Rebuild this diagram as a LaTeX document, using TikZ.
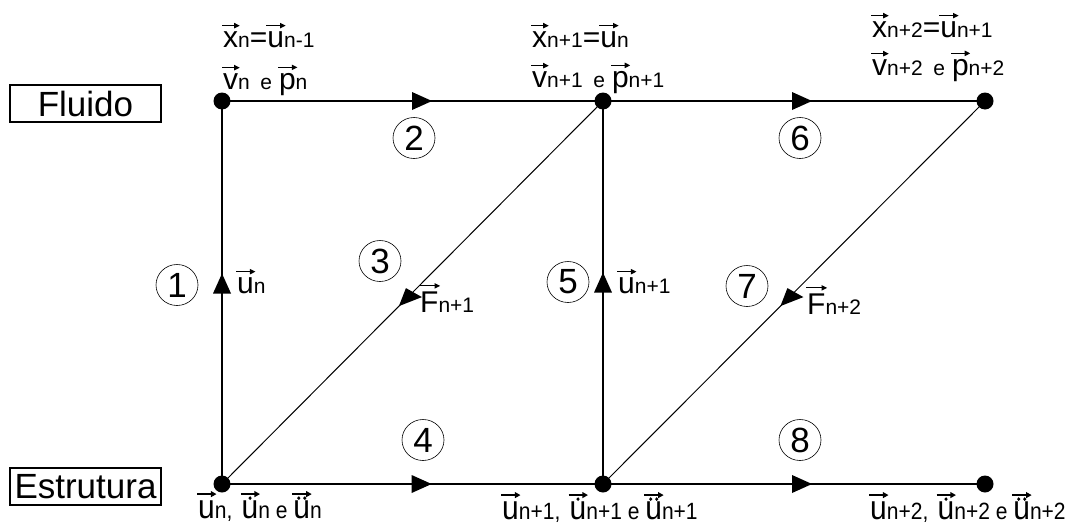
\documentclass[tikz,border=0pt]{standalone}
\usepackage{fontspec}
\usepackage{graphicx}
\usetikzlibrary{shapes.geometric}
\setmainfont{Liberation Sans}
\newbox\vab
\newdimen\vaw
\newcommand\vaarrow[1]{\tikz[x=1pt,y=1pt,baseline=0pt,line width=1.1pt]{%
  \draw (-1,0)--(\vaw-2,0);
  \fill (\vaw+1.5,0)--(\vaw-4,2.8)--(\vaw-4,-2.8)--cycle;
  \ifnum#1=1 \fill (\vaw/2,-3.6) circle (1.7);\fi
  \ifnum#1=2 \fill (\vaw/2-3,-3.6) circle (1.7); \fill (\vaw/2+3,-3.6) circle (1.7);\fi}}
\newcommand\va[2][0]{{\setbox\vab=\hbox{#2}\vaw=\wd\vab\relax
  \rlap{\hbox to \vaw{\hss\raisebox{\dimexpr\ht\vab+5.5pt\relax}{\vaarrow{#1}}\hss}}\box\vab}}
\newcommand\smf[1]{{\fontsize{21}{21}\selectfont #1}}
\tikzset{
  dot/.style={circle,fill=black,inner sep=0pt,minimum size=17pt},
  lab/.style={anchor=base west,inner sep=0pt,font=\fontsize{30}{30}\selectfont},
  num/.style={draw,line width=0.6pt,ellipse,inner sep=0pt,minimum width=42pt,minimum height=41pt,font=\fontsize{35}{35}\selectfont},
  box/.style={draw,line width=1.4pt,inner sep=0pt,minimum width=151pt,minimum height=37pt,font=\fontsize{35}{35}\selectfont},
  edge/.style={line width=2pt},
  diag/.style={line width=1pt},
  hhead/.pic={\fill (-10,-9) -- (10,0) -- (-10,9) -- cycle;},
  dhead/.pic={\fill (-2,-9) -- (14,0) -- (-9,9) -- cycle;}
}
\begin{document}
\begin{tikzpicture}[x=1pt,y=-1pt]
\useasboundingbox (0,0) rectangle (1080,525);
% boxes
\node[box] (fluido) at (85.5,103.5) {Fluido};
\node[box] (estr) at (85.5,486.5) {Estrutura};
% graph nodes
\node[dot] (f1) at (222,101) {};
\node[dot] (f2) at (603,101) {};
\node[dot] (f3) at (985,101) {};
\node[dot] (s1) at (222,484) {};
\node[dot] (s2) at (603,484) {};
\node[dot] (s3) at (985,484) {};
% connectors
\draw[edge] (f1.center) -- coordinate[pos=0.525] (a2) (f2.center);
\draw[edge] (f2.center) -- coordinate[pos=0.521] (a6) (f3.center);
\draw[edge] (s1.center) -- coordinate[pos=0.524] (a4) (s2.center);
\draw[edge] (s2.center) -- coordinate[pos=0.521] (a8) (s3.center);
\draw[edge] (s1.center) -- coordinate[pos=0.5235] (a1) (f1.center);
\draw[edge] (s2.center) -- coordinate[pos=0.526] (a5) (f2.center);
\draw[diag] (s1.center) -- coordinate[pos=0.488] (a3) (f2.center);
\draw[diag] (s2.center) -- coordinate[pos=0.488] (a7) (f3.center);
% arrowheads
\pic at (a2) {hhead};
\pic at (a6) {hhead};
\pic at (a4) {hhead};
\pic at (a8) {hhead};
\pic[rotate=90] at (a1) {hhead};
\pic[rotate=90] at (a5) {hhead};
\pic at (a3) {dhead};
\pic at (a7) {dhead};
% circled numbers
\node[num] (c1) at (177,285) {1};
\node[num] (c2) at (414,138) {2};
\node[num] (c3) at (380,261) {3};
\node[num] (c4) at (423,440) {4};
\node[num] (c5) at (568,282) {5};
\node[num] (c6) at (800,138) {6};
\node[num] (c7) at (747,286) {7};
\node[num] (c8) at (800,440) {8};
% labels
\node[lab] (tl1) at (223,47) {\va{x}\smf{n}=\va{u}\smf{n-1}};
\node[lab] (tl2) at (223,89) {\va{v}\smf{n\enspace e\,\,}\va{p}\smf{n}};
\node[lab] (tm1) at (532,47) {\va{x}\smf{n+1}=\va{u}\smf{n}};
\node[lab] (tm2) at (532,87) {\va{v}\smf{n+1\enspace e\,\,}\va{p}\smf{n+1}};
\node[lab] (tr1) at (872,37) {\va{x}\smf{n+2}=\va{u}\smf{n+1}};
\node[lab] (tr2) at (872,75) {\va{v}\smf{n+2\enspace e\,\,}\va{p}\smf{n+2}};
\node[lab] (bl) at (198,518) {\scalebox{1}[1.12]{\va{u}\smf{n,\ \,}\va[1]{u}\smf{n\ e\ }\va[2]{u}\smf{n}}};
\node[lab] (bm) at (502,519) {\scalebox{1}[1.12]{\va{u}\smf{n+1,\ \,}\va[1]{u}\smf{n+1\ e\ }\va[2]{u}\smf{n+1}}};
\node[lab] (br) at (870,519) {\scalebox{1}[1.12]{\va{u}\smf{n+2,\ \,}\va[1]{u}\smf{n+2\ e\ }\va[2]{u}\smf{n+2}}};
\node[lab] (lu1) at (237,293) {\va{u}\smf{n}};
\node[lab] (lf1) at (420,312) {\va{F}\smf{n+1}};
\node[lab] (lu2) at (618,293) {\va{u}\smf{n+1}};
\node[lab] (lf2) at (807,314) {\va{F}\smf{n+2}};
\end{tikzpicture}
\end{document}
